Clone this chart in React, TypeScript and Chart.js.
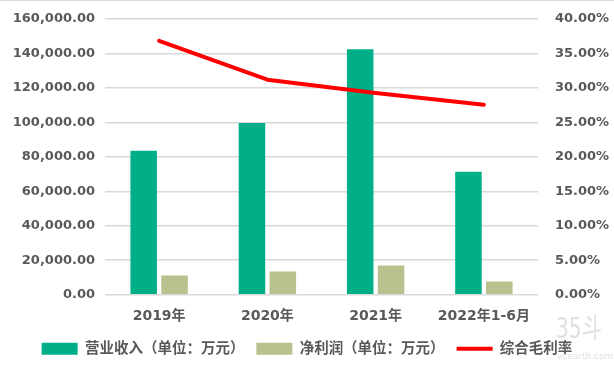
import React, { useEffect, useRef } from "react";
import { Chart, registerables } from "chart.js";

Chart.register(...registerables);

const categories = ["2019年", "2020年", "2021年", "2022年1-6月"];
const revenue = [83500, 99700, 142500, 71300];
const netProfit = [11100, 13400, 16900, 7600];
const grossMargin = [0.3683, 0.312, 0.2925, 0.2755];

const leftTicks = { min: 0, max: 160000, step: 20000 };
const rightTicks = { min: 0, max: 0.4, step: 0.05 };

const seriesNames = ["营业收入（单位：万元）", "净利润（单位：万元）", "综合毛利率"];

const GREEN = "#00AF88";
const OLIVE = "#B8C28E";
const RED = "#FF0000";
const TEXT = "#595959";
const GRID = "#D9D9D9";
const FONT = "'DejaVu Sans', 'Noto Sans CJK SC', sans-serif";

const bgPlugin = {
  id: "bg",
  beforeDraw(chart: any) {
    const { ctx, width } = chart;
    ctx.save();
    ctx.fillStyle = "#ffffff";
    ctx.fillRect(0, 0, width, chart.height);
    ctx.strokeStyle = GRID;
    ctx.lineWidth = 1;
    ctx.beginPath();
    ctx.moveTo(0, 0.5);
    ctx.lineTo(width, 0.5);
    ctx.stroke();
    ctx.restore();
  },
};

export default function App() {
  const ref = useRef<HTMLCanvasElement | null>(null);
  useEffect(() => {
    document.body.style.margin = "0";
    const canvas = ref.current;
    if (!canvas) return;
    const chart = new Chart(canvas, {
      type: "bar",
      data: {
        labels: categories,
        datasets: [
          {
            type: "bar",
            label: seriesNames[0],
            data: revenue,
            backgroundColor: GREEN,
            yAxisID: "y",
            categoryPercentage: 0.57,
            barPercentage: 0.86,
            order: 1,
          },
          {
            type: "bar",
            label: seriesNames[1],
            data: netProfit,
            backgroundColor: OLIVE,
            yAxisID: "y",
            categoryPercentage: 0.57,
            barPercentage: 0.86,
            order: 1,
          },
          {
            type: "line",
            label: seriesNames[2],
            data: grossMargin,
            borderColor: RED,
            backgroundColor: RED,
            borderWidth: 4,
            pointRadius: 0,
            tension: 0,
            borderCapStyle: "round",
            borderJoinStyle: "round",
            yAxisID: "y1",
            order: 0,
          } as any,
        ],
      },
      options: {
        responsive: false,
        animation: false,
        layout: { padding: { top: 19, bottom: 8, left: 0, right: 0 } },
        plugins: {
          tooltip: { enabled: false },
          legend: {
            position: "bottom",
            labels: {
              color: TEXT,
              font: { family: FONT, size: 14.5, weight: "bold" },
              usePointStyle: true,
              pointStyleWidth: 36,
              boxHeight: 12,
              padding: 12,
              generateLabels(chart: any) {
                const items = Chart.defaults.plugins.legend.labels.generateLabels(chart);
                items.sort((a: any, b: any) => a.datasetIndex - b.datasetIndex);
                return items.map((it: any) => {
                  if (it.datasetIndex === 2) {
                    return { ...it, pointStyle: "line", lineWidth: 4, strokeStyle: RED, fillStyle: RED };
                  }
                  return { ...it, pointStyle: "rect", lineWidth: 0 };
                });
              },
            },
          },
        },
        scales: {
          x: {
            grid: { display: false },
            border: { display: false },
            ticks: { color: TEXT, font: { family: FONT, size: 14, weight: "bold" }, padding: 5 },
          },
          y: {
            position: "left",
            min: leftTicks.min,
            max: leftTicks.max,
            grid: { color: GRID, lineWidth: 1.5, drawTicks: false },
            border: { display: false },
            ticks: {
              stepSize: leftTicks.step,
              color: TEXT,
              padding: 10,
              font: { family: FONT, size: 13, weight: "bold" },
              callback: (v: any) =>
                Number(v).toLocaleString("en-US", { minimumFractionDigits: 2, maximumFractionDigits: 2 }),
            },
            afterFit(scale: any) {
              scale.width = 105;
            },
          },
          y1: {
            position: "right",
            min: rightTicks.min,
            max: rightTicks.max,
            grid: { display: false },
            border: { display: false },
            ticks: {
              stepSize: rightTicks.step,
              color: TEXT,
              padding: 9,
              font: { family: FONT, size: 13, weight: "bold" },
              callback: (v: any) => (Number(v) * 100).toFixed(2) + "%",
            },
            afterFit(scale: any) {
              scale.width = 76;
            },
          },
        },
      },
      plugins: [bgPlugin],
    });
    return () => chart.destroy();
  }, []);

  return (
    <div style={{ position: "relative", width: 614, height: 374, background: "#fff", overflow: "hidden" }}>
      <canvas ref={ref} width={614} height={374} style={{ display: "block" }} />
      <div
        style={{
          position: "absolute",
          left: 556,
          top: 313,
          color: "#e0e0e0",
          fontFamily: FONT,
          fontSize: 28,
          lineHeight: "32px",
          whiteSpace: "nowrap",
          transform: "scaleX(0.72)",
          transformOrigin: "left top",
        }}
      >
        35斗
      </div>
      <div
        style={{
          position: "absolute",
          left: 557,
          top: 351,
          color: "#e0e0e0",
          fontFamily: FONT,
          fontSize: 9,
          whiteSpace: "nowrap",
        }}
      >
        vcearth.com
      </div>
    </div>
  );
}
